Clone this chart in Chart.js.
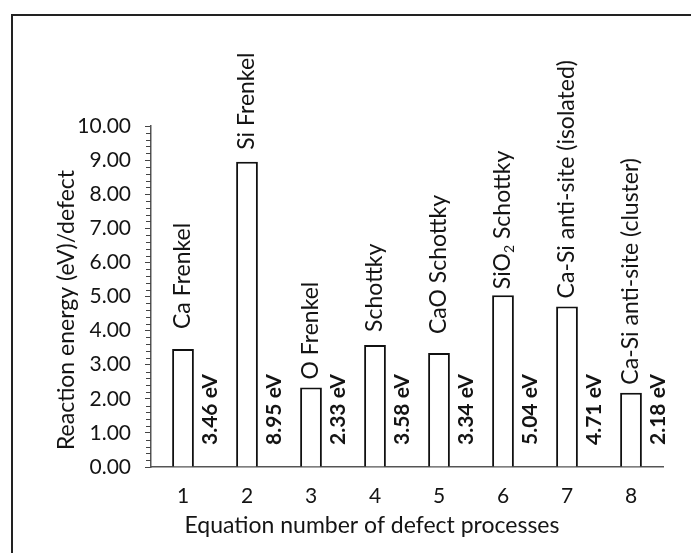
<!DOCTYPE html>
<html>
<head>
<meta charset="utf-8">
<script src="https://cdn.jsdelivr.net/npm/chart.js@4.4.1/dist/chart.umd.min.js"></script>
<style>
  html, body { margin: 0; padding: 0; background: #fff; }
  #wrap { width: 691px; height: 553px; }
</style>
</head>
<body>
<div id="wrap"><canvas id="c" width="691" height="553"></canvas></div>
<script>
// data
const equationNumbers = ['1', '2', '3', '4', '5', '6', '7', '8'];
const reactionEnergies = [3.46, 8.95, 2.33, 3.58, 3.34, 5.04, 4.71, 2.18];
const processNames = ['Ca Frenkel', 'Si Frenkel', 'O Frenkel', 'Schottky', 'CaO Schottky',
                      'SiO\u2082 Schottky', 'Ca-Si anti-site (isolated)', 'Ca-Si anti-site (cluster)'];
const yTicks = [0, 1, 2, 3, 4, 5, 6, 7, 8, 9, 10];
const xTitle = 'Equation number of defect processes';
const yTitle = 'Reaction energy (eV)/defect';

// gap between bar top and its name (px), as placed in the original
const nameGaps = [20, 12, 8, 13, 19, 6, 8, 8];

const FONT = 'Lato, "Open Sans", sans-serif';
const INK = '#141414';

const framePlugin = {
    id: 'frame',
    beforeDraw(chart) {
        const ctx = chart.ctx;
        ctx.save();
        ctx.fillStyle = '#fff';
        ctx.fillRect(0, 0, chart.width, chart.height);
        ctx.strokeStyle = '#222';
        ctx.lineWidth = 2;
        ctx.beginPath();
        ctx.moveTo(12, chart.height + 2);
        ctx.lineTo(12, 15);
        ctx.lineTo(chart.width + 2, 15);
        ctx.stroke();
        ctx.restore();
    }
};

// minor ticks every 0.2 on the y axis
const minorTicksPlugin = {
    id: 'minorTicks',
    afterDraw(chart) {
        const y = chart.scales.y;
        const ctx = chart.ctx;
        ctx.save();
        ctx.strokeStyle = '#444';
        ctx.lineWidth = 1;
        ctx.beginPath();
        for (let i = 0; i <= 50; i++) {
            if (i % 5 === 0) continue;
            const py = Math.round(y.getPixelForValue(i / 5)) + 0.5;
            ctx.moveTo(y.right - 5, py);
            ctx.lineTo(y.right, py);
        }
        ctx.stroke();
        ctx.restore();
    }
};

// axis titles sit a little off-centre in the original, so draw them by hand
const titlesPlugin = {
    id: 'axisTitles',
    afterDraw(chart) {
        const ctx = chart.ctx;
        ctx.save();
        ctx.fillStyle = INK;
        ctx.font = '23px ' + FONT;
        ctx.textAlign = 'center';
        ctx.textBaseline = 'middle';
        ctx.fillText(xTitle, 372, 526);
        ctx.translate(67, 310);
        ctx.rotate(-Math.PI / 2);
        ctx.fillText(yTitle, 0, 0);
        ctx.restore();
    }
};

function drawName(ctx, text, size) {
    // handles subscript "₂"
    const parts = text.split('\u2082');
    let x = 0;
    ctx.font = size + 'px ' + FONT;
    ctx.fillText(parts[0], x, 0);
    if (parts.length > 1) {
        x += ctx.measureText(parts[0]).width;
        ctx.font = Math.round(size * 0.62) + 'px ' + FONT;
        ctx.fillText('2', x, size * 0.3);
        x += ctx.measureText('2').width;
        ctx.font = size + 'px ' + FONT;
        ctx.fillText(parts[1], x, 0);
    }
}

const labelsPlugin = {
    id: 'barLabels',
    afterDatasetsDraw(chart) {
        const ctx = chart.ctx;
        const meta = chart.getDatasetMeta(0);
        const yScale = chart.scales.y;
        ctx.save();
        ctx.fillStyle = INK;
        ctx.textAlign = 'left';
        ctx.textBaseline = 'middle';
        meta.data.forEach((bar, i) => {
            // process name above the bar
            ctx.save();
            ctx.translate(bar.x, bar.y - nameGaps[i]);
            ctx.rotate(-Math.PI / 2);
            drawName(ctx, processNames[i], 23);
            ctx.restore();
            // energy value beside the bar
            ctx.save();
            ctx.translate(bar.x + 27, yScale.bottom - 22);
            ctx.rotate(-Math.PI / 2);
            ctx.font = 'bold 21px ' + FONT;
            ctx.fillText(reactionEnergies[i].toFixed(2) + ' eV', 0, 0);
            ctx.restore();
        });
        ctx.restore();
    }
};

new Chart(document.getElementById('c'), {
    type: 'bar',
    data: {
        labels: equationNumbers,
        datasets: [{
            data: reactionEnergies,
            backgroundColor: '#fff',
            borderColor: '#111',
            borderWidth: 2,
            borderSkipped: 'bottom',
            barPercentage: 0.34,
            categoryPercentage: 1
        }]
    },
    options: {
        responsive: false,
        animation: false,
        devicePixelRatio: 1,
        layout: { padding: { left: 0, right: 28, top: 126, bottom: 0 } },
        plugins: {
            legend: { display: false },
            tooltip: { enabled: false }
        },
        scales: {
            x: {
                afterFit(s) { s.height = 86; },
                grid: { display: false, drawTicks: false },
                border: { display: true, color: '#555', width: 1.5 },
                ticks: { color: INK, font: { family: FONT, size: 21 }, padding: 17 }
            },
            y: {
                min: 0,
                max: 10,
                afterFit(s) { s.width = 151; },
                afterBuildTicks(s) { s.ticks = yTicks.map(v => ({ value: v })); },
                grid: { drawOnChartArea: false, drawTicks: true, tickLength: 6, color: '#444' },
                border: { display: true, color: '#555', width: 1.5 },
                ticks: {
                    color: INK,
                    font: { family: FONT, size: 21 },
                    padding: 14,
                    callback: v => Number(v).toFixed(2)
                }
            }
        }
    },
    plugins: [framePlugin, minorTicksPlugin, titlesPlugin, labelsPlugin]
});
</script>
</body>
</html>
